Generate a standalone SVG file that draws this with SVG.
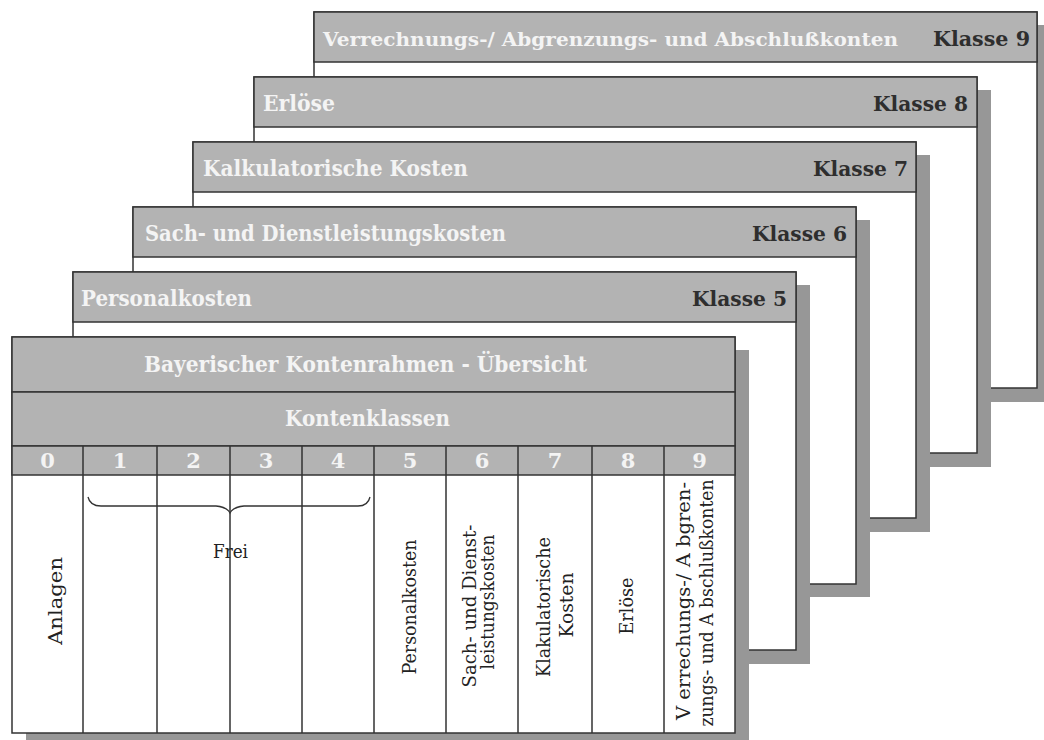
<svg xmlns="http://www.w3.org/2000/svg" width="1044" height="740" viewBox="0 0 1044 740">
<style>
.bg{fill:#ffffff}
.shadow{fill:#979797}
.card{fill:#ffffff;stroke:#333333;stroke-width:1.5}
.head{fill:#b3b3b3;stroke:#333333;stroke-width:1.5}
.ln{stroke:#333333;stroke-width:1.5;fill:none}
.title{font-family:"DejaVu Serif","Liberation Serif",serif;font-weight:bold;font-size:22px;fill:#f4f4f4}
.title.small{font-size:19px}
.klasse{font-family:"DejaVu Serif","Liberation Serif",serif;font-weight:bold;font-size:21px;fill:#2e2e2e;text-anchor:end}
.num{font-family:"DejaVu Serif","Liberation Serif",serif;font-weight:bold;font-size:21px;fill:#f4f4f4;text-anchor:middle}
.col{font-family:"DejaVu Serif","Liberation Serif",serif;font-size:19px;fill:#222222;text-anchor:middle}
.brace{stroke:#333333;stroke-width:1.3;fill:none}
</style>
<rect class="bg" x="0" y="0" width="1044" height="740"/>

<g id="klasse9">
<rect class="shadow" x="328" y="25" width="723" height="377"/>
<rect class="card" x="314" y="12" width="723" height="376"/>
<rect class="head" x="314" y="12" width="723" height="50"/>
<text class="title small" x="323" y="46" textLength="575" lengthAdjust="spacingAndGlyphs">Verrechnungs-/ Abgrenzungs- und Abschlußkonten</text>
<text class="klasse" x="1030" y="46" textLength="97" lengthAdjust="spacingAndGlyphs">Klasse 9</text>
</g>

<g id="klasse8">
<rect class="shadow" x="268" y="90" width="723" height="377"/>
<rect class="card" x="254" y="77" width="723" height="376"/>
<rect class="head" x="254" y="77" width="723" height="50"/>
<text class="title" x="263" y="111" textLength="72" lengthAdjust="spacingAndGlyphs">Erlöse</text>
<text class="klasse" x="968" y="111" textLength="95" lengthAdjust="spacingAndGlyphs">Klasse 8</text>
</g>

<g id="klasse7">
<rect class="shadow" x="207" y="155" width="723" height="377"/>
<rect class="card" x="193" y="142" width="723" height="376"/>
<rect class="head" x="193" y="142" width="723" height="50"/>
<text class="title" x="203" y="176" textLength="265" lengthAdjust="spacingAndGlyphs">Kalkulatorische Kosten</text>
<text class="klasse" x="908" y="176" textLength="95" lengthAdjust="spacingAndGlyphs">Klasse 7</text>
</g>

<g id="klasse6">
<rect class="shadow" x="147" y="220" width="723" height="377"/>
<rect class="card" x="133" y="207" width="723" height="377"/>
<rect class="head" x="133" y="207" width="723" height="50"/>
<text class="title" x="145" y="241" textLength="361" lengthAdjust="spacingAndGlyphs">Sach- und Dienstleistungskosten</text>
<text class="klasse" x="847" y="241" textLength="95" lengthAdjust="spacingAndGlyphs">Klasse 6</text>
</g>

<g id="klasse5">
<rect class="shadow" x="87" y="285" width="723" height="379"/>
<rect class="card" x="73" y="272" width="723" height="378"/>
<rect class="head" x="73" y="272" width="723" height="50"/>
<text class="title" x="81" y="306" textLength="171" lengthAdjust="spacingAndGlyphs">Personalkosten</text>
<text class="klasse" x="787" y="306" textLength="95" lengthAdjust="spacingAndGlyphs">Klasse 5</text>
</g>

<g id="uebersicht">
<rect class="shadow" x="26" y="350" width="723" height="396"/>
<rect class="card" x="12" y="337" width="723" height="396"/>
<rect class="head" x="12" y="337" width="723" height="55"/>
<rect class="head" x="12" y="392" width="723" height="54"/>
<rect class="head" x="12" y="446" width="723" height="29"/>
<text class="title" x="144" y="372" textLength="443" lengthAdjust="spacingAndGlyphs">Bayerischer Kontenrahmen - Übersicht</text>
<text class="title" x="285" y="426" textLength="165" lengthAdjust="spacingAndGlyphs">Kontenklassen</text>
<path class="ln" d="M83 446V733M157 446V733M230 446V733M302 446V733M374 446V733M446 446V733M518 446V733M592 446V733M664 446V733"/>
<text class="num" x="47.5" y="468">0</text>
<text class="num" x="120" y="468">1</text>
<text class="num" x="193.5" y="468">2</text>
<text class="num" x="266" y="468">3</text>
<text class="num" x="338" y="468">4</text>
<text class="num" x="410" y="468">5</text>
<text class="num" x="482" y="468">6</text>
<text class="num" x="555" y="468">7</text>
<text class="num" x="628" y="468">8</text>
<text class="num" x="699.5" y="468">9</text>
<path class="brace" d="M88 497Q90 506 101 506L216 506Q227 507 230 513Q233 507 244 506L358 506Q368 506 370 497"/>
<text class="col" x="230.5" y="558" textLength="35" lengthAdjust="spacingAndGlyphs">Frei</text>
<text class="col" transform="translate(62 601) rotate(-90)" textLength="88" lengthAdjust="spacingAndGlyphs">Anlagen</text>
<text class="col" transform="translate(416 607) rotate(-90)" textLength="135" lengthAdjust="spacingAndGlyphs">Personalkosten</text>
<text class="col" transform="translate(476 606) rotate(-90)" textLength="163" lengthAdjust="spacingAndGlyphs">Sach- und Dienst-</text>
<text class="col" transform="translate(494 602) rotate(-90)" textLength="135" lengthAdjust="spacingAndGlyphs">leistungskosten</text>
<text class="col" transform="translate(550 607) rotate(-90)" textLength="140" lengthAdjust="spacingAndGlyphs">Klakulatorische</text>
<text class="col" transform="translate(573 605) rotate(-90)" textLength="65" lengthAdjust="spacingAndGlyphs">Kosten</text>
<text class="col" transform="translate(633 606) rotate(-90)" textLength="57" lengthAdjust="spacingAndGlyphs">Erlöse</text>
<text class="col" transform="translate(690 601) rotate(-90)" textLength="238" lengthAdjust="spacingAndGlyphs">V errechungs-/ A bgren-</text>
<text class="col" transform="translate(713 603) rotate(-90)" textLength="247" lengthAdjust="spacingAndGlyphs">zungs- und A bschlußkonten</text>
</g>

<g id="connectors"></g>
</svg>
